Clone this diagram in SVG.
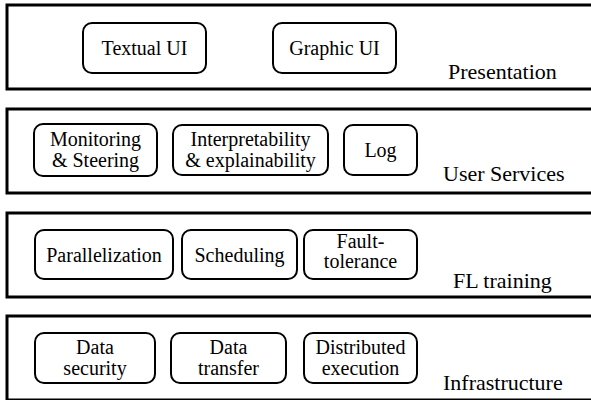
<svg xmlns="http://www.w3.org/2000/svg" width="591" height="400" viewBox="0 0 591 400">
<style>
.layer{fill:#fff;stroke:#000;stroke-width:3}
.box{fill:#fff;stroke:#000;stroke-width:2}
text{font-family:"Liberation Serif","DejaVu Serif",serif;fill:#000}
.t{font-size:20px;text-anchor:middle}
.l{font-size:22px}
</style>
<rect width="591" height="400" fill="#fff"/>
<g id="presentation">
<rect class="layer" x="7" y="5" width="600" height="84"/>
<text class="l" x="448" y="79">Presentation</text>
</g>
<g id="textual-ui"><rect class="box" x="83" y="23" width="123" height="50" rx="9"/><text class="t" x="144.5" y="55">Textual UI</text></g>
<g id="graphic-ui"><rect class="box" x="273" y="23" width="123" height="50" rx="9"/><text class="t" x="334.5" y="55">Graphic UI</text></g>
<g id="user-services">
<rect class="layer" x="7" y="109" width="600" height="84"/>
<text class="l" x="443" y="181">User Services</text>
</g>
<g id="monitoring"><rect class="box" x="34" y="124" width="123" height="52" rx="9"/><text class="t" x="95.5" y="146">Monitoring</text><text class="t" x="95.5" y="167">&amp; Steering</text></g>
<g id="interpretability"><rect class="box" x="173" y="125" width="155" height="50" rx="9"/><text class="t" x="250.5" y="146">Interpretability</text><text class="t" x="250.5" y="167">&amp; explainability</text></g>
<g id="log"><rect class="box" x="344" y="125" width="73" height="50" rx="9"/><text class="t" x="380.5" y="157">Log</text></g>
<g id="fl-training">
<rect class="layer" x="7" y="213" width="600" height="84"/>
<text class="l" x="453" y="288">FL training</text>
</g>
<g id="parallelization"><rect class="box" x="35" y="230" width="138" height="49" rx="9"/><text class="t" x="104" y="262">Parallelization</text></g>
<g id="scheduling"><rect class="box" x="182" y="230" width="115" height="49" rx="9"/><text class="t" x="239.5" y="262">Scheduling</text></g>
<g id="fault-tolerance"><rect class="box" x="304" y="230" width="113" height="49" rx="9"/><text class="t" x="360.5" y="248">Fault-</text><text class="t" x="360.5" y="268">tolerance</text></g>
<g id="infrastructure">
<rect class="layer" x="7" y="316" width="600" height="84"/>
<text class="l" x="443" y="390">Infrastructure</text>
</g>
<g id="data-security"><rect class="box" x="35" y="333" width="120" height="50" rx="9"/><text class="t" x="95" y="354">Data</text><text class="t" x="95" y="375">security</text></g>
<g id="data-transfer"><rect class="box" x="171" y="333" width="115" height="50" rx="9"/><text class="t" x="228.5" y="354">Data</text><text class="t" x="228.5" y="375">transfer</text></g>
<g id="distributed-execution"><rect class="box" x="304" y="333" width="113" height="50" rx="9"/><text class="t" x="360.5" y="354">Distributed</text><text class="t" x="360.5" y="375">execution</text></g>
<g id="connectors"></g>
</svg>
